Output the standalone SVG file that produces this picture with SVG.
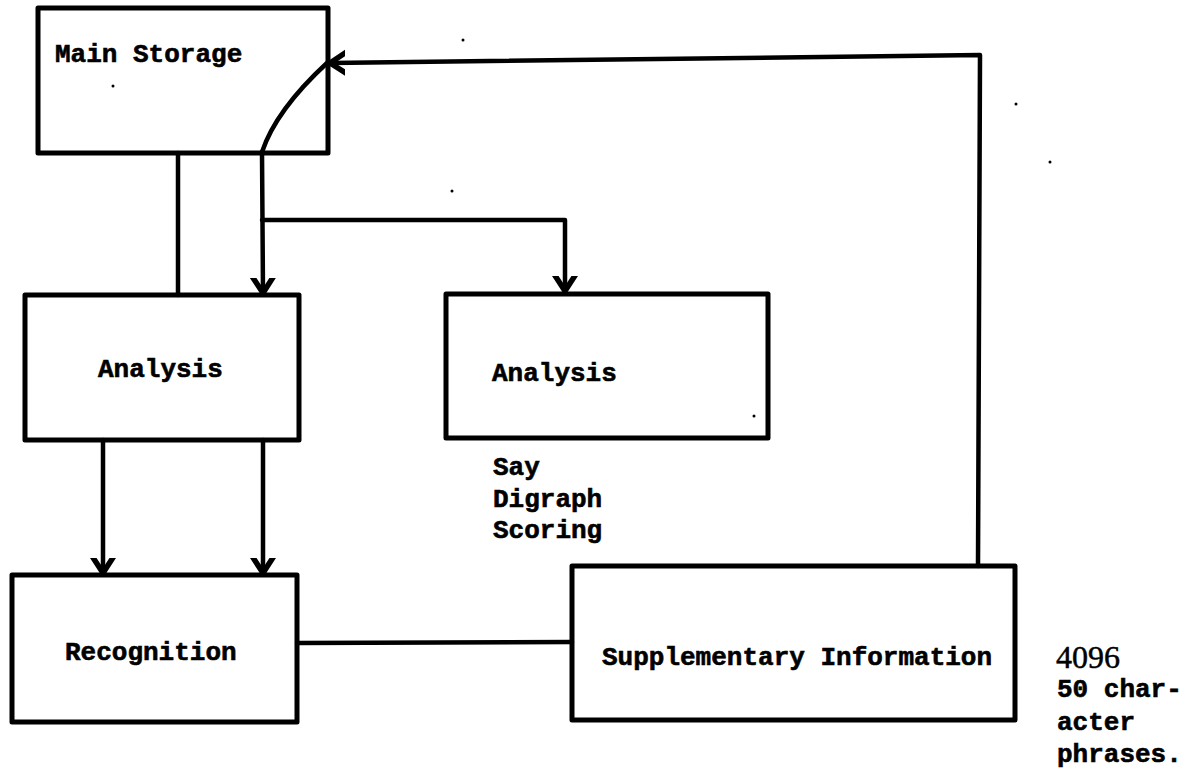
<svg xmlns="http://www.w3.org/2000/svg" width="1199" height="777" viewBox="0 0 1199 777">
<style>
.box{fill:#fff;stroke:#000;stroke-width:5;stroke-linejoin:round}
.ln{fill:none;stroke:#000;stroke-width:4.5;stroke-linecap:round;stroke-linejoin:round}
.t{font-family:"Liberation Mono","Courier New",monospace;font-weight:bold;font-size:26px;fill:#000;stroke:#000;stroke-width:0.6}
.n{font-family:"Liberation Serif","Times New Roman",serif;font-size:32px;fill:#000;stroke:#000;stroke-width:0.5}
.dot{fill:#000}
</style>
<defs>
<marker id="ah" markerWidth="30" markerHeight="30" viewBox="-15 -15 30 30" refX="0" refY="0" orient="auto" markerUnits="userSpaceOnUse">
<path d="M-17,-11 L0,0 L-17,11" fill="none" stroke="#000" stroke-width="5.5" stroke-linecap="round" stroke-linejoin="round"/>
</marker>
</defs>
<rect width="1199" height="777" fill="#fff"/>
<g id="main-storage">
<rect class="box" x="38" y="8" width="290" height="145"/>
<text class="t" x="55" y="62">Main Storage</text>
</g>
<g id="analysis-1">
<rect class="box" x="25" y="295" width="274" height="145"/>
<text class="t" x="98" y="377">Analysis</text>
</g>
<g id="analysis-2">
<rect class="box" x="446" y="294" width="322" height="144"/>
<text class="t" x="492" y="381">Analysis</text>
</g>
<g id="analysis-2-note">
<text class="t" x="493" y="475">Say</text>
<text class="t" x="493" y="507">Digraph</text>
<text class="t" x="493" y="538">Scoring</text>
</g>
<g id="recognition">
<rect class="box" x="12" y="575" width="285" height="147"/>
<text class="t" x="65" y="660">Recognition</text>
</g>
<g id="supplementary-information">
<rect class="box" x="572" y="566" width="443" height="154"/>
<text class="t" x="602" y="665">Supplementary Information</text>
</g>
<g id="supplementary-note">
<text class="n" x="1056" y="668">4096</text>
<text class="t" x="1057" y="697">50 char-</text>
<text class="t" x="1057" y="730">acter</text>
<text class="t" x="1057" y="762">phrases.</text>
</g>
<g id="connectors">
<path class="ln" d="M178,153 L178,295"/>
<path class="ln" d="M262,152 L263,293" marker-end="url(#ah)"/>
<path class="ln" d="M262,220 L565,220 L565,291" marker-end="url(#ah)"/>
<path class="ln" d="M262,152 Q276,110 327,63" stroke-width="5.5"/>
<path class="ln" d="M978,566 L980,55 L330,63" marker-end="url(#ah)"/>
<path class="ln" d="M103,440 L103,573" marker-end="url(#ah)"/>
<path class="ln" d="M263,440 L263,573" marker-end="url(#ah)"/>
<path class="ln" d="M297,643 L572,642"/>
</g>
<g id="specks">
<circle class="dot" cx="113" cy="86" r="1.5"/>
<circle class="dot" cx="463" cy="40" r="1.5"/>
<circle class="dot" cx="452" cy="191" r="1.5"/>
<circle class="dot" cx="754" cy="416" r="1.5"/>
<circle class="dot" cx="1016" cy="104" r="1.5"/>
<circle class="dot" cx="1050" cy="162" r="1.5"/>
</g>
</svg>
